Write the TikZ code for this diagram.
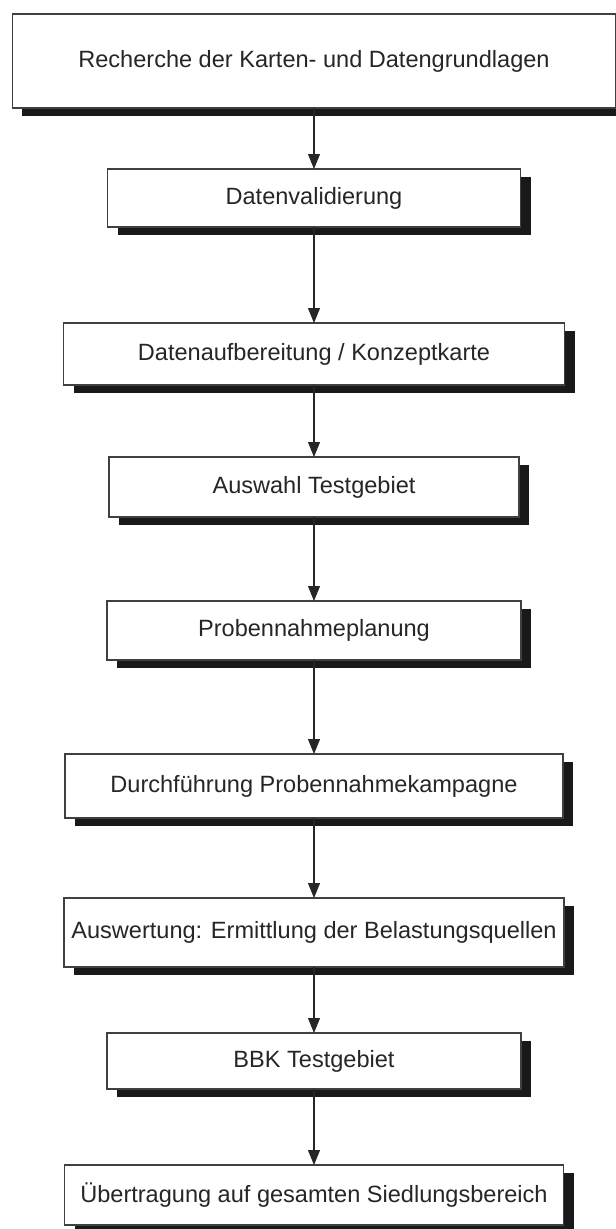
\documentclass[tikz,border=0pt]{standalone}
\usepackage{fontspec}
\setmainfont{Liberation Sans}
\usepackage{xcolor}
\usetikzlibrary{shapes,arrows.meta,shadows}
\usetikzlibrary{positioning}

\tikzset{
    stepbox/.style={draw=black!75, fill=white, line width=0.6pt,
        text=black!85, font=\fontsize{13.4}{16}\selectfont,
        inner sep=0pt, outer sep=0pt,
        drop shadow={shadow xshift=0.2cm, shadow yshift=-0.15cm,
            fill=black!90, opacity=1}},
    flow/.style={->, line width=0.6pt, black!85,
        >={Triangle[length=8.5pt,width=6.8pt]}}
}

\begin{document}
\begin{tikzpicture}

    \useasboundingbox (0,0) rectangle (12.32,-24.58);

    \node[stepbox, minimum width=12.06cm, minimum height=1.88cm]
        (recherche) at (6.28,-1.22)
        {Recherche der Karten- und Datengrundlagen};
    \node[stepbox, minimum width=8.26cm, minimum height=1.16cm,
        below=1.22cm of recherche]
        (valid) {Datenvalidierung};
    \node[stepbox, minimum width=10.02cm, minimum height=1.24cm,
        below=1.92cm of valid]
        (aufber) {Datenaufbereitung / Konzeptkarte};
    \node[stepbox, minimum width=8.20cm, minimum height=1.20cm,
        below=1.44cm of aufber]
        (auswahl) {Auswahl Testgebiet};
    \node[stepbox, minimum width=8.28cm, minimum height=1.18cm,
        below=1.68cm of auswahl]
        (planung) {Probennahmeplanung};
    \node[stepbox, minimum width=9.96cm, minimum height=1.28cm,
        below=1.88cm of planung]
        (kampagne) {Durchführung Probennahmekampagne};
    \node[stepbox, minimum width=10.00cm, minimum height=1.38cm,
        below=1.60cm of kampagne]
        (auswert) {Auswertung: Ermittlung der Belastungsquellen};
    \node[stepbox, minimum width=8.28cm, minimum height=1.12cm,
        below=1.32cm of auswert]
        (bbk) {BBK Testgebiet};
    \node[stepbox, minimum width=9.98cm, minimum height=1.20cm,
        below=1.52cm of bbk]
        (uebertr) {Übertragung auf gesamten Siedlungsbereich};

    \draw[flow] (recherche) -- (valid);
    \draw[flow] (valid) -- (aufber);
    \draw[flow] (aufber) -- (auswahl);
    \draw[flow] (auswahl) -- (planung);
    \draw[flow] (planung) -- (kampagne);
    \draw[flow] (kampagne) -- (auswert);
    \draw[flow] (auswert) -- (bbk);
    \draw[flow] (bbk) -- (uebertr);

\end{tikzpicture}
\end{document}
